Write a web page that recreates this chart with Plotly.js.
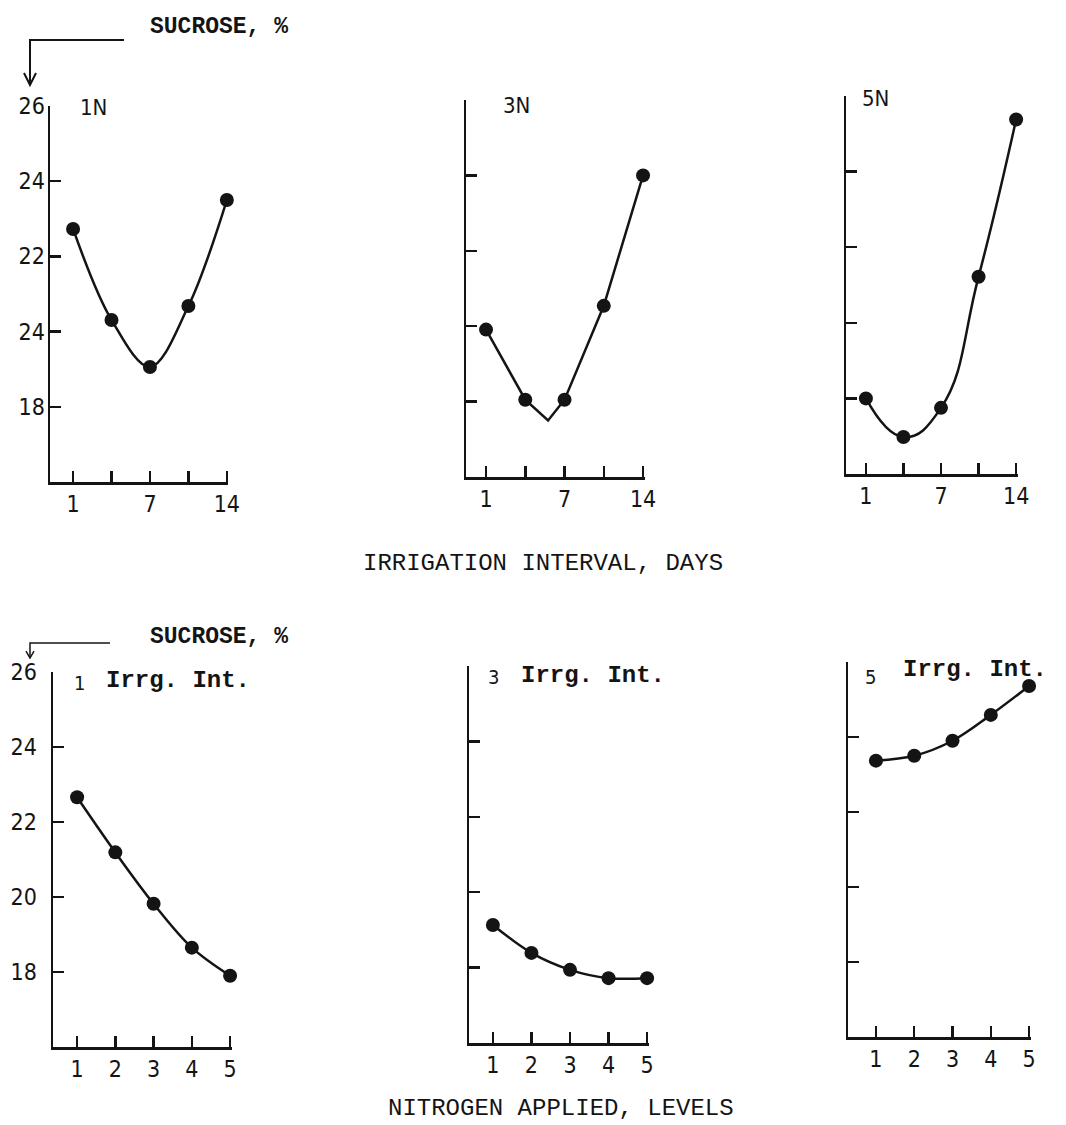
<!DOCTYPE html>
<html>
<head>
<meta charset="utf-8">
<script src="https://cdn.plot.ly/plotly-3.0.1.min.js"></script>
<style>html,body{margin:0;padding:0;background:#fff;}#chart{width:1066px;height:1125px;}</style>
</head>
<body>
<div id="chart"></div>
<script>
// ---- data ----
const xPos = [1, 2, 3, 4, 5];
const topTickText = ["1", "", "7", "", "14"];
const bottomTickText = ["1", "2", "3", "4", "5"];
const yTickVals = [18, 20, 22, 24, 26];
const yTickTextTop = ["18", "24", "22", "24", "26"];
const yTickTextBottom = ["18", "20", "22", "24", "26"];

const sucrose1N = [22.73, 20.31, 19.06, 20.68, 23.5];
const sucrose3N = [19.91, 18.05, 18.05, 20.54, 24.0];
const curve3Nx = [1, 2, 2.58, 3, 4, 5];
const curve3Ny = [19.91, 18.05, 17.5, 18.05, 20.54, 24.0];
const sucrose5N = [18.0, 16.98, 17.75, 21.22, 25.38];

const sucroseIrr1 = [22.66, 21.19, 19.82, 18.65, 17.9];
const sucroseIrr3 = [19.13, 18.39, 17.94, 17.72, 17.72];
const sucroseIrr5 = [23.37, 23.5, 23.9, 24.59, 25.36];

// ---- layout helpers ----
const W = 1066, H = 1125;
const px = v => v / W;
const py = v => 1 - v / H;
const mono = "Liberation Mono, Courier New, monospace";
const narrow = "Liberation Sans Narrow, DejaVu Sans Condensed, Liberation Sans, sans-serif";
const ink = "#141414";

const panels = [
  {xd: [50, 228], yd: [106, 482], xr: [0.40, 5.03], tt: topTickText, yt: yTickTextTop, showY: true, sd: -2},
  {xd: [466, 645], yd: [100, 477], xr: [0.49, 5.05], tt: topTickText, yt: yTickTextTop, showY: false},
  {xd: [846, 1018], yd: [96, 474], xr: [0.47, 5.05], tt: topTickText, yt: yTickTextTop, showY: false},
  {xd: [53, 232], yd: [672, 1047], xr: [0.37, 5.05], tt: bottomTickText, yt: yTickTextBottom, showY: true, sd: 9},
  {xd: [469, 649], yd: [666, 1043], xr: [0.38, 5.05], tt: bottomTickText, yt: yTickTextBottom, showY: false},
  {xd: [848, 1031], yd: [662, 1037], xr: [0.27, 5.05], tt: bottomTickText, yt: yTickTextBottom, showY: false}
];

const layout = {
  width: W, height: H,
  margin: {l: 0, r: 0, t: 0, b: 0},
  paper_bgcolor: "#ffffff", plot_bgcolor: "rgba(0,0,0,0)",
  showlegend: false,
  annotations: [], shapes: []
};

panels.forEach((p, i) => {
  const n = i === 0 ? "" : String(i + 1);
  layout["xaxis" + n] = {
    domain: [px(p.xd[0]), px(p.xd[1])],
    anchor: "y" + n,
    range: p.xr,
    tickmode: "array", tickvals: xPos, ticktext: p.tt,
    ticks: "inside", ticklen: 11, tickwidth: 2.5, tickcolor: ink,
    showline: true, linewidth: 2.5, linecolor: ink,
    showgrid: false, zeroline: false,
    tickfont: {family: narrow, size: 23, color: ink},
    fixedrange: true
  };
  layout["yaxis" + n] = {
    domain: [py(p.yd[1]), py(p.yd[0])],
    anchor: "x" + n,
    range: [16, 26],
    tickmode: "array", tickvals: yTickVals, ticktext: p.yt,
    showticklabels: p.showY,
    ticklabelstandoff: p.sd || 0,
    ticks: "inside", ticklen: 11, tickwidth: 2.5, tickcolor: ink,
    showline: true, linewidth: 2.5, linecolor: ink,
    showgrid: false, zeroline: false,
    tickfont: {family: narrow, size: 23, color: ink},
    fixedrange: true
  };
});

const lineStyle = {color: ink, width: 2.5};
const markerStyle = {color: ink, size: 14};
function series(y, ax, smooth) {
  return {
    x: xPos, y: y, xaxis: "x" + ax, yaxis: "y" + ax,
    type: "scatter", mode: "lines+markers",
    line: Object.assign({shape: "spline", smoothing: smooth || 1}, lineStyle),
    marker: markerStyle, cliponaxis: false, hoverinfo: "x+y"
  };
}

const data = [
  series(sucrose1N, ""),
  {x: curve3Nx, y: curve3Ny, xaxis: "x2", yaxis: "y2", type: "scatter", mode: "lines",
   line: Object.assign({shape: "linear"}, lineStyle), cliponaxis: false, hoverinfo: "skip"},
  {x: xPos, y: sucrose3N, xaxis: "x2", yaxis: "y2", type: "scatter", mode: "markers",
   marker: markerStyle, cliponaxis: false},
  series(sucrose5N, "3", 1.3),
  series(sucroseIrr1, "4"),
  series(sucroseIrr3, "5"),
  series(sucroseIrr5, "6")
];

function txt(t, x, y, family, size, anchor) {
  layout.annotations.push({
    text: t, x: px(x), y: py(y), xref: "paper", yref: "paper",
    xanchor: anchor || "left", yanchor: "middle", showarrow: false,
    font: {family: family, size: size, color: ink}
  });
}

txt("<b>SUCROSE, %</b>", 148, 27, mono, 23);
txt("1N", 78, 107, narrow, 22);
txt("3N", 501, 106, narrow, 22);
txt("5N", 860, 99, narrow, 22);
txt("IRRIGATION INTERVAL, DAYS", 543, 563, mono, 24, "center");
txt("<b>SUCROSE, %</b>", 148, 637, mono, 23);
txt("1", 72, 683, narrow, 20);
txt("<b>Irrg. Int.</b>", 104, 680, mono, 24);
txt("3", 486, 677, narrow, 20);
txt("<b>Irrg. Int.</b>", 519, 675, mono, 24);
txt("5", 863, 677, narrow, 20);
txt("<b>Irrg. Int.</b>", 901, 670, mono, 24);
txt("NITROGEN APPLIED, LEVELS", 561, 1108, mono, 24, "center");

function path(points) {
  return points.map((p, i) => (i ? "L" : "M") + px(p[0]).toFixed(5) + "," + py(p[1]).toFixed(5)).join(" ");
}
const arrowLine = {color: ink, width: 2};
layout.shapes.push(
  {type: "path", xref: "paper", yref: "paper", path: path([[124, 40], [30, 40], [30, 84]]), line: arrowLine},
  {type: "path", xref: "paper", yref: "paper", path: path([[24, 73], [30, 85], [36, 73]]), line: arrowLine},
  {type: "path", xref: "paper", yref: "paper", path: path([[110, 643], [30, 643], [30, 657]]), line: {color: ink, width: 1.5}},
  {type: "path", xref: "paper", yref: "paper", path: path([[26, 651], [30, 658], [34, 651]]), line: {color: ink, width: 1.5}}
);

Plotly.newPlot("chart", data, layout, {staticPlot: true, displayModeBar: false});
</script>
</body>
</html>
